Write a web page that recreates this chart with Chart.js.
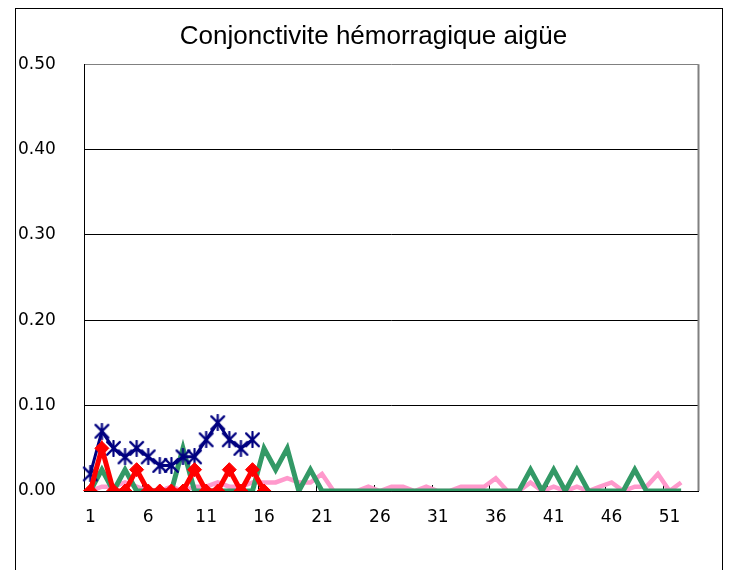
<!DOCTYPE html>
<html>
<head>
<meta charset="utf-8">
<script src="https://cdn.jsdelivr.net/npm/chart.js@4.4.1/dist/chart.umd.min.js"></script>
<style>
  html, body { margin: 0; padding: 0; background: #fff; }
  #holder { width: 729px; height: 570px; }
</style>
</head>
<body>
<div id="holder"><canvas id="chart" width="729" height="570"></canvas></div>
<script>
// semaines 1..53 (la 53e reste vide)
const semaines = ['1','2','3','4','5','6','7','8','9','10','11','12','13','14','15','16','17','18','19','20',
  '21','22','23','24','25','26','27','28','29','30','31','32','33','34','35','36','37','38','39','40',
  '41','42','43','44','45','46','47','48','49','50','51','52','53'];

const serieBleue = [0.02, 0.07, 0.05, 0.04, 0.05, 0.04, 0.03, 0.03, 0.04, 0.04, 0.06, 0.08, 0.06, 0.05, 0.06];

const serieRouge = [0, 0.05, 0, 0, 0.025, 0, 0, 0, 0, 0.025, 0, 0, 0.025, 0, 0.025, 0];

const serieVerte = [0, 0.025, 0, 0.025, 0, 0, 0, 0, 0.05, 0, 0, 0, 0, 0, 0, 0.05, 0.025, 0.05, 0, 0.025,
  0, 0, 0, 0, 0, 0, 0, 0, 0, 0, 0, 0, 0, 0, 0, 0, 0, 0, 0.025, 0,
  0.025, 0, 0.025, 0, 0, 0, 0, 0.025, 0, 0, 0, 0];

const serieRose = [0, 0.005, 0.005, 0.01, 0.005, 0, 0, 0.005, 0, 0.005, 0.005, 0.01, 0.005, 0.005, 0.01, 0.01, 0.01, 0.015, 0.01, 0.01,
  0.02, 0, 0, 0, 0.005, 0, 0.005, 0.005, 0, 0.005, 0, 0, 0.005, 0.005, 0.005, 0.015, 0, 0, 0.01, 0,
  0.005, 0, 0.005, 0, 0.005, 0.01, 0, 0.005, 0.005, 0.02, 0, 0.01];

const yTicks = [0, 0.1, 0.2, 0.3, 0.4, 0.5];

const tickFont = { family: "'DejaVu Sans', sans-serif", size: 17 };

// marqueur asterisque facon Excel (X + barre verticale)
function asterisque(size, color) {
  const c = document.createElement('canvas');
  c.width = size; c.height = size;
  const g = c.getContext('2d');
  const m = size / 2, r = size / 2 - 1;
  g.strokeStyle = color;
  g.lineWidth = 2.2;
  g.lineCap = 'round';
  g.beginPath();
  g.moveTo(m, m - r); g.lineTo(m, m + r);
  g.moveTo(m - r * 0.85, m - r * 0.85); g.lineTo(m + r * 0.85, m + r * 0.85);
  g.moveTo(m + r * 0.85, m - r * 0.85); g.lineTo(m - r * 0.85, m + r * 0.85);
  g.stroke();
  return c;
}

// cadre exterieur + bord droit gris du trace
const cadre = {
  id: 'cadre',
  beforeDraw(chart) {
    const ctx = chart.ctx;
    ctx.save();
    ctx.fillStyle = '#fff';
    ctx.fillRect(0, 0, chart.width, chart.height);
    ctx.strokeStyle = '#000';
    ctx.lineWidth = 1;
    ctx.strokeRect(15.5, 8.5, 707, 600);
    ctx.restore();
  },
  beforeDatasetsDraw(chart) {
    const { ctx, chartArea: a } = chart;
    ctx.save();
    ctx.strokeStyle = '#808080';
    ctx.lineWidth = 2;
    ctx.beginPath();
    ctx.moveTo(a.right, a.top);
    ctx.lineTo(a.right, a.bottom);
    ctx.stroke();
    ctx.restore();
  }
};

new Chart(document.getElementById('chart'), {
  type: 'line',
  data: {
    labels: semaines,
    datasets: [
      {
        label: 'rouge',
        data: serieRouge,
        borderColor: '#ff0000',
        backgroundColor: '#ff0000',
        borderWidth: 5,
        pointStyle: 'rectRot',
        pointRadius: 7,
        pointBorderWidth: 1
      },
      {
        label: 'bleu',
        data: serieBleue,
        borderColor: '#000080',
        backgroundColor: '#000080',
        borderWidth: 3,
        pointStyle: asterisque(17, '#000080'),
        pointRadius: 8
      },
      {
        label: 'vert',
        data: serieVerte,
        borderColor: '#339966',
        backgroundColor: '#339966',
        borderWidth: 5,
        pointRadius: 0
      },
      {
        label: 'rose',
        data: serieRose,
        borderColor: '#ff99cc',
        backgroundColor: '#ff99cc',
        borderWidth: 4.5,
        pointRadius: 0
      }
    ]
  },
  options: {
    responsive: false,
    animation: false,
    events: [],
    layout: { padding: { left: 18, right: 0, top: 0, bottom: 0 } },
    elements: { line: { tension: 0 } },
    plugins: {
      legend: { display: false },
      tooltip: { enabled: false },
      title: {
        display: true,
        text: 'Conjonctivite hémorragique aigüe',
        color: '#000',
        font: { family: "'Liberation Sans', Arial, sans-serif", size: 26, weight: 'normal' },
        padding: { top: 21, bottom: 12 }
      }
    },
    scales: {
      x: {
        type: 'category',
        offset: true,
        grid: {
          offset: true,
          drawOnChartArea: false,
          drawTicks: true,
          tickLength: -6,
          tickColor: (c) => (c.index % 5 === 0 ? '#000' : 'rgba(0,0,0,0)')
        },
        border: { color: '#000', width: 1 },
        ticks: {
          autoSkip: false,
          maxRotation: 0,
          padding: 22,
          color: '#000',
          font: tickFont,
          callback: (v, i) => (i % 5 === 0 && i < 52 ? semaines[i] : '')
        },
        afterFit(s) { s.height = 79; }
      },
      y: {
        min: 0,
        max: 0.5,
        afterBuildTicks(s) { s.ticks = yTicks.map(v => ({ value: v })); },
        grid: {
          color: (c) => (c.tick && c.tick.value === 0.5 ? '#808080' : '#000'),
          lineWidth: 1,
          drawTicks: false
        },
        border: { color: '#000', width: 1 },
        ticks: {
          crossAlign: 'far',
          color: '#000',
          font: tickFont,
          callback: (v) => Number(v).toFixed(2)
        },
        afterFit(s) { s.width = 66.5; }
      },
      y2: {
        position: 'right',
        grid: { display: false },
        border: { display: false },
        ticks: { display: false },
        afterFit(s) { s.width = 30.5; }
      }
    }
  },
  plugins: [cadre]
});
</script>
</body>
</html>
